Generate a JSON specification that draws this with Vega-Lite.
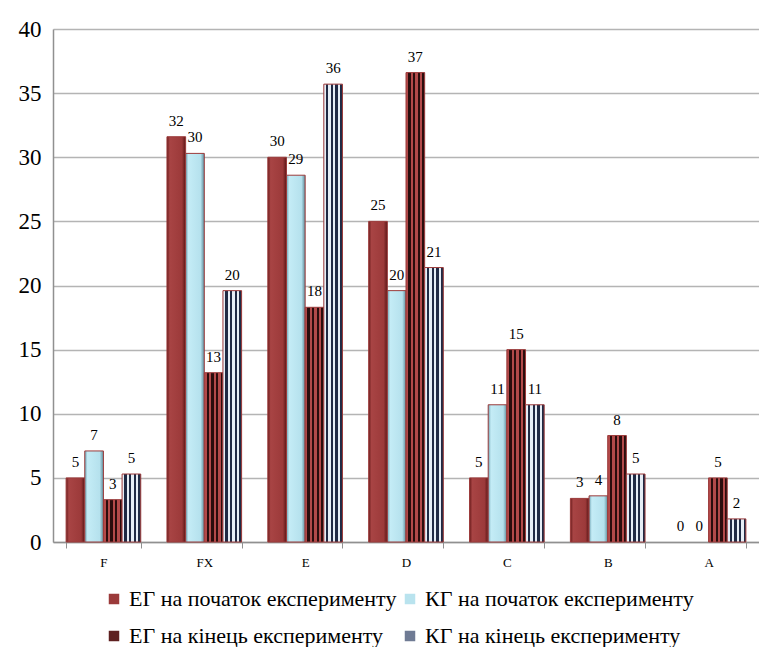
{
  "$schema": "https://vega.github.io/schema/vega-lite/v6.json",
  "width": 706,
  "height": 513,
  "padding": {"left": 18, "top": 18, "right": 0, "bottom": 0},
  "background": "white",
  "config": {"view": {"stroke": null}, "font": "Times New Roman"},
  "data": {"values": [
    {"grade": "F", "series": "ЕГ на початок експерименту", "value": 5.0},
    {"grade": "F", "series": "КГ на початок експерименту", "value": 7.1},
    {"grade": "F", "series": "ЕГ на кінець експерименту", "value": 3.3},
    {"grade": "F", "series": "КГ на кінець експерименту", "value": 5.3},
    {"grade": "FX", "series": "ЕГ на початок експерименту", "value": 31.6},
    {"grade": "FX", "series": "КГ на початок експерименту", "value": 30.3},
    {"grade": "FX", "series": "ЕГ на кінець експерименту", "value": 13.2},
    {"grade": "FX", "series": "КГ на кінець експерименту", "value": 19.6},
    {"grade": "E", "series": "ЕГ на початок експерименту", "value": 30.0},
    {"grade": "E", "series": "КГ на початок експерименту", "value": 28.6},
    {"grade": "E", "series": "ЕГ на кінець експерименту", "value": 18.3},
    {"grade": "E", "series": "КГ на кінець експерименту", "value": 35.7},
    {"grade": "D", "series": "ЕГ на початок експерименту", "value": 25.0},
    {"grade": "D", "series": "КГ на початок експерименту", "value": 19.6},
    {"grade": "D", "series": "ЕГ на кінець експерименту", "value": 36.6},
    {"grade": "D", "series": "КГ на кінець експерименту", "value": 21.4},
    {"grade": "C", "series": "ЕГ на початок експерименту", "value": 5.0},
    {"grade": "C", "series": "КГ на початок експерименту", "value": 10.7},
    {"grade": "C", "series": "ЕГ на кінець експерименту", "value": 15.0},
    {"grade": "C", "series": "КГ на кінець експерименту", "value": 10.7},
    {"grade": "B", "series": "ЕГ на початок експерименту", "value": 3.4},
    {"grade": "B", "series": "КГ на початок експерименту", "value": 3.6},
    {"grade": "B", "series": "ЕГ на кінець експерименту", "value": 8.3},
    {"grade": "B", "series": "КГ на кінець експерименту", "value": 5.3},
    {"grade": "A", "series": "ЕГ на початок експерименту", "value": 0},
    {"grade": "A", "series": "КГ на початок експерименту", "value": 0},
    {"grade": "A", "series": "ЕГ на кінець експерименту", "value": 5.0},
    {"grade": "A", "series": "КГ на кінець експерименту", "value": 1.8}
  ]},
  "encoding": {
    "x": {
      "field": "grade", "type": "nominal",
      "sort": ["F", "FX", "E", "D", "C", "B", "A"],
      "scale": {"paddingInner": 0.26, "paddingOuter": 0.13},
      "axis": {"title": null, "labelAngle": 0, "labelFontSize": 13, "labelFont": "Times New Roman", "labelColor": "#000000", "tickBand": "extent", "tickSize": 6, "tickColor": "#909090", "domainColor": "#909090", "domainWidth": 1.5, "labelPadding": 8, "grid": false}
    },
    "xOffset": {
      "field": "series", "type": "nominal",
      "sort": ["ЕГ на початок експерименту", "КГ на початок експерименту", "ЕГ на кінець експерименту", "КГ на кінець експерименту"],
      "scale": {"paddingInner": 0, "paddingOuter": 0}
    },
    "y": {
      "field": "value", "type": "quantitative",
      "scale": {"domain": [0, 40]},
      "axis": {"title": null, "values": [0, 5, 10, 15, 20, 25, 30, 35, 40], "labelFontSize": 23, "labelFont": "Times New Roman", "labelColor": "#000000", "ticks": false, "labelPadding": 12, "domainColor": "#909090", "domainWidth": 1.5, "gridColor": "#b4b4b4", "gridWidth": 1.5}
    }
  },
  "layer": [
    {
      "mark": {"type": "bar", "stroke": "#9b3a3a", "strokeWidth": 1},
      "encoding": {
        "strokeOpacity": {"condition": {"test": "datum.value === 0", "value": 0}, "value": 1},
        "fill": {
          "field": "series", "type": "nominal",
          "sort": ["ЕГ на початок експерименту", "КГ на початок експерименту", "ЕГ на кінець експерименту", "КГ на кінець експерименту"],
          "scale": {
            "domain": ["ЕГ на початок експерименту", "КГ на початок експерименту", "ЕГ на кінець експерименту", "КГ на кінець експерименту"],
            "range": ["#9b3a3a", "#b9e3ee", "#5e2020", "#6f7b94"]
          },
          "legend": {"title": null, "orient": "none", "legendX": 50, "legendY": 559, "direction": "horizontal", "columns": 2, "labelFontSize": 22, "labelFont": "Times New Roman", "labelColor": "#000000", "labelLimit": 400, "symbolType": "square", "symbolSize": 110, "symbolStrokeWidth": 0, "columnPadding": 2, "rowPadding": 15},
          "condition": [
            {"test": "datum.series === 'ЕГ на початок експерименту'", "value": {"gradient": "linear", "x1": 0, "y1": 0, "x2": 1, "y2": 0, "stops": [
              {"offset": 0, "color": "#6a1c1c"}, {"offset": 0.15, "color": "#a84444"}, {"offset": 0.8, "color": "#9c3a3a"}, {"offset": 1, "color": "#5a1616"}]}},
            {"test": "datum.series === 'КГ на початок експерименту'", "value": {"gradient": "linear", "x1": 0, "y1": 0, "x2": 1, "y2": 0, "stops": [
              {"offset": 0, "color": "#6fa3b3"}, {"offset": 0.15, "color": "#c4ecf6"}, {"offset": 0.8, "color": "#b5e1ed"}, {"offset": 1, "color": "#5f8e9c"}]}},
            {"test": "datum.series === 'ЕГ на кінець експерименту'", "value": {"gradient": "linear", "x1": 0, "y1": 0, "x2": 1, "y2": 0, "stops": [
              {"offset": 0, "color": "#b34a4a"}, {"offset": 0.125, "color": "#b34a4a"}, {"offset": 0.125, "color": "#2a0d0d"}, {"offset": 0.25, "color": "#2a0d0d"},
              {"offset": 0.25, "color": "#b34a4a"}, {"offset": 0.375, "color": "#b34a4a"}, {"offset": 0.375, "color": "#2a0d0d"}, {"offset": 0.5, "color": "#2a0d0d"},
              {"offset": 0.5, "color": "#b34a4a"}, {"offset": 0.625, "color": "#b34a4a"}, {"offset": 0.625, "color": "#2a0d0d"}, {"offset": 0.75, "color": "#2a0d0d"},
              {"offset": 0.75, "color": "#b34a4a"}, {"offset": 0.875, "color": "#b34a4a"}, {"offset": 0.875, "color": "#2a0d0d"}, {"offset": 1, "color": "#2a0d0d"}]}},
            {"test": "datum.series === 'КГ на кінець експерименту'", "value": {"gradient": "linear", "x1": 0, "y1": 0, "x2": 1, "y2": 0, "stops": [
              {"offset": 0, "color": "#e6eef6"}, {"offset": 0.125, "color": "#e6eef6"}, {"offset": 0.125, "color": "#1f2a44"}, {"offset": 0.25, "color": "#1f2a44"},
              {"offset": 0.25, "color": "#e6eef6"}, {"offset": 0.375, "color": "#e6eef6"}, {"offset": 0.375, "color": "#1f2a44"}, {"offset": 0.5, "color": "#1f2a44"},
              {"offset": 0.5, "color": "#e6eef6"}, {"offset": 0.625, "color": "#e6eef6"}, {"offset": 0.625, "color": "#1f2a44"}, {"offset": 0.75, "color": "#1f2a44"},
              {"offset": 0.75, "color": "#e6eef6"}, {"offset": 0.875, "color": "#e6eef6"}, {"offset": 0.875, "color": "#1f2a44"}, {"offset": 1, "color": "#1f2a44"}]}}
          ]
        }
      }
    },
    {
      "mark": {"type": "text", "baseline": "bottom", "dy": -8, "fontSize": 15, "font": "Times New Roman", "color": "#000000"},
      "encoding": {
        "text": {"field": "value", "type": "quantitative", "format": ".0f"}
      }
    }
  ]
}
